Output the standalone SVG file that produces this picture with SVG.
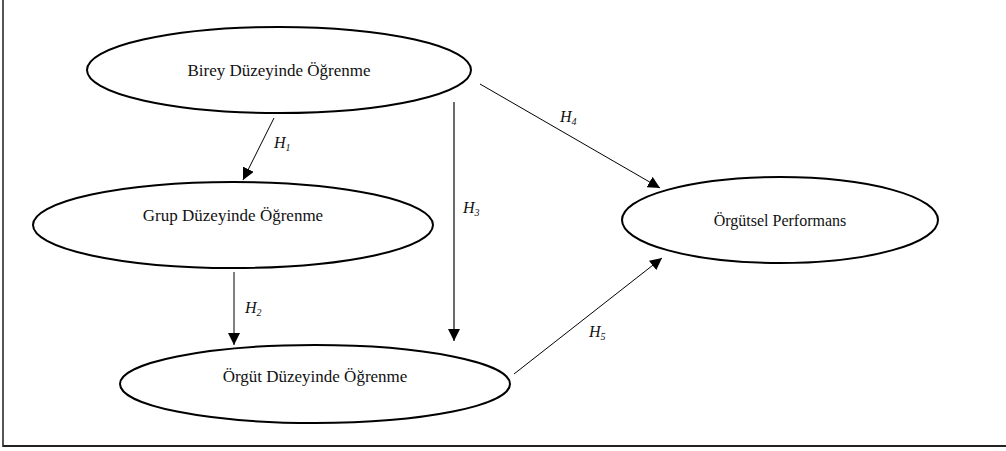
<svg xmlns="http://www.w3.org/2000/svg" width="1006" height="451" viewBox="0 0 1006 451">
  <style>
    .node ellipse { fill: #ffffff; stroke: #000000; stroke-width: 2; }
    .node text { font-family: "Liberation Serif", "Times New Roman", serif; font-size: 17px; fill: #111111; text-anchor: middle; }
    .edge { stroke: #000000; stroke-width: 1; fill: none; marker-end: url(#arrow); }
    .edge.grey { stroke: #6b6b6b; stroke-width: 2; }
    .lbl { font-family: "Liberation Serif", "Times New Roman", serif; font-style: italic; font-size: 16px; fill: #111111; }
    .lbl tspan { font-size: 10px; }
    .frame { stroke-width: 2; fill: none; }
  </style>
  <defs>
    <marker id="arrow" markerWidth="12" markerHeight="12" refX="12" refY="6" orient="auto" markerUnits="userSpaceOnUse">
      <path d="M0,0 L12,6 L0,12 Z" fill="#000000"/>
    </marker>
  </defs>

  <rect width="1006" height="451" fill="#ffffff"/>

  <!-- open frame: left side and bottom -->
  <line class="frame" x1="3" y1="0" x2="3" y2="447" stroke="#555555"/>
  <line class="frame" x1="3" y1="446" x2="1006" y2="446" stroke="#222222"/>

  <g id="connectors">
    <line class="edge" x1="274" y1="118" x2="243" y2="180"/>
    <line class="edge" x1="234" y1="272" x2="234" y2="345"/>
    <line class="edge grey" x1="454" y1="102" x2="454" y2="341"/>
    <line class="edge" x1="480" y1="84" x2="660" y2="188"/>
    <line class="edge" x1="514" y1="374" x2="662" y2="258"/>
    <text class="lbl" x="274" y="148">H<tspan dy="3">1</tspan></text>
    <text class="lbl" x="245" y="313">H<tspan dy="3">2</tspan></text>
    <text class="lbl" x="463" y="213">H<tspan dy="3">3</tspan></text>
    <text class="lbl" x="560" y="122">H<tspan dy="3">4</tspan></text>
    <text class="lbl" x="589" y="337">H<tspan dy="3">5</tspan></text>
  </g>

  <g id="birey" class="node">
    <ellipse cx="279" cy="70" rx="192" ry="43"/>
    <text x="279" y="76">Birey Düzeyinde Öğrenme</text>
  </g>
  <g id="grup" class="node">
    <ellipse cx="233" cy="225" rx="200" ry="43"/>
    <text x="233" y="221">Grup Düzeyinde Öğrenme</text>
  </g>
  <g id="orgut" class="node">
    <ellipse cx="315" cy="384" rx="195" ry="39"/>
    <text x="315" y="382">Örgüt Düzeyinde Öğrenme</text>
  </g>
  <g id="performans" class="node">
    <ellipse cx="780" cy="220" rx="158" ry="43"/>
    <text x="780" y="226" style="font-size:16px">Örgütsel Performans</text>
  </g>
</svg>
